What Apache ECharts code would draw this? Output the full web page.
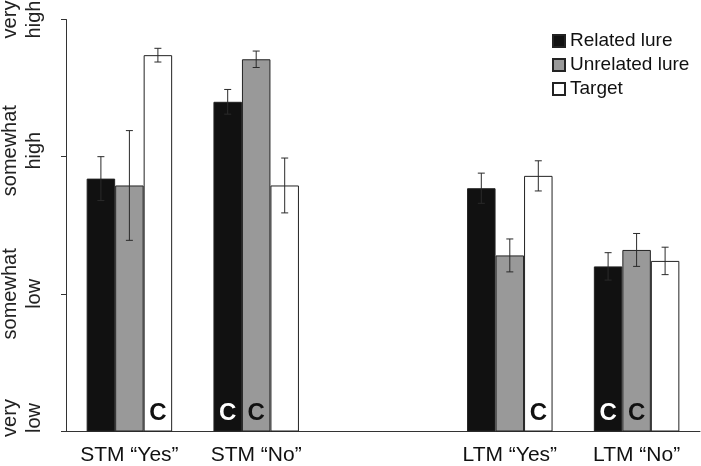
<!DOCTYPE html>
<html>
<head>
<meta charset="utf-8">
<script src="https://cdn.jsdelivr.net/npm/echarts@6/dist/echarts.min.js"></script>
<style>
  html, body { margin: 0; padding: 0; background: #fff; }
  #chart { width: 701px; height: 466px; }
</style>
</head>
<body>
<div id="chart"></div>
<script>
// categories (empty slot in the middle separates STM and LTM)
const categories = ["STM \u201cYes\u201d", "STM \u201cNo\u201d", "", "LTM \u201cYes\u201d", "LTM \u201cNo\u201d"];
const yLabels = [["very", "low"], ["somewhat", "low"], ["somewhat", "high"], ["very", "high"]];
const seriesNames = ["Related lure", "Unrelated lure", "Target"];

// means (1 = very low ... 4 = very high)
const related = [2.84, 3.40, null, 2.77, 2.20];
const unrelated = [2.79, 3.71, null, 2.28, 2.32];
const target = [3.74, 2.79, null, 2.86, 2.24];

// error bar half-lengths
const relatedErr = [0.16, 0.09, null, 0.11, 0.10];
const unrelatedErr = [0.40, 0.06, null, 0.12, 0.12];
const targetErr = [0.05, 0.20, null, 0.11, 0.10];

// which bars carry the "C" mark
const relatedC = [false, true, false, false, true];
const unrelatedC = [false, true, false, false, true];
const targetC = [true, false, false, true, false];

const FONT = "'Liberation Sans', Arial, Helvetica, sans-serif";
const barW = 28.5;

const means = [related, unrelated, target];
const errs = [relatedErr, unrelatedErr, targetErr];
const marks = [relatedC, unrelatedC, targetC];
const fills = ["#111111", "#999999", "#ffffff"];
const cColors = ["#ffffff", "#111111", "#111111"];
// rich style per y label (nudges some labels along the axis like the original)
const yLabelStyle = ["low1", "mid", "high2", "mid"];

var myChart = echarts.init(document.getElementById("chart"));

let series = [];
means.forEach(function (vals, k) {
  series.push({
    name: seriesNames[k],
    type: "bar",
    barWidth: barW,
    barGap: "0%",
    itemStyle: {
      color: fills[k],
      borderColor: "#222",
      borderWidth: 1,
    },
    label: {
      position: "insideBottom",
      distance: 6,
      formatter: "C",
      fontFamily: FONT,
      fontSize: 24,
      fontWeight: "bold",
      color: cColors[k],
    },
    data: vals.map(function (v, i) {
      return { value: v === null ? "-" : v, label: { show: marks[k][i] } };
    }),
    z: 2,
  });
});

// error bars drawn on top of the bars
means.forEach(function (vals, k) {
  const offset = (k - 1) * barW;
  let data = [];
  vals.forEach(function (v, i) {
    if (v !== null) data.push([i, v, errs[k][i]]);
  });
  series.push({
    type: "custom",
    z: 5,
    silent: true,
    renderItem: function (params, api) {
      const x = api.value(0);
      const m = api.value(1);
      const e = api.value(2);
      const hi = api.coord([x, m + e]);
      const lo = api.coord([x, m - e]);
      const cx = hi[0] + offset;
      const cap = 3.5;
      const style = { stroke: "#2a2a2a", lineWidth: 1 };
      return {
        type: "group",
        children: [
          { type: "line", shape: { x1: cx, y1: hi[1], x2: cx, y2: lo[1] }, style: style },
          { type: "line", shape: { x1: cx - cap, y1: hi[1], x2: cx + cap, y2: hi[1] }, style: style },
          { type: "line", shape: { x1: cx - cap, y1: lo[1], x2: cx + cap, y2: lo[1] }, style: style },
        ],
      };
    },
    data: data,
  });
});

const yRich = {
  mid: { fontFamily: FONT, fontSize: 20, lineHeight: 24, color: "#222" },
  low1: { fontFamily: FONT, fontSize: 20, lineHeight: 24, color: "#222", padding: [0, 0, 0, 26] },
  high2: { fontFamily: FONT, fontSize: 20, lineHeight: 24, color: "#222", padding: [0, 0, 0, 12] },
};

var option = {
  backgroundColor: "#fff",
  animation: false,
  textStyle: { fontFamily: FONT },
  grid: {
    left: 66,
    right: 1,
    top: 19.5,
    bottom: 35,
    containLabel: false,
    outerBoundsMode: "none",
  },
  legend: {
    orient: "vertical",
    left: 552,
    top: 31,
    padding: 0,
    icon: "rect",
    itemWidth: 12,
    itemHeight: 12,
    itemGap: 4,
    itemTextGap: 5,
    data: seriesNames,
    textStyle: {
      fontFamily: FONT,
      fontSize: 19,
      lineHeight: 20,
      color: "#111",
    },
  },
  xAxis: {
    type: "category",
    data: categories,
    axisLine: { show: true, lineStyle: { color: "#333", width: 1 } },
    axisTick: { show: false },
    axisLabel: {
      fontFamily: FONT,
      fontSize: 21,
      color: "#111",
      margin: 14,
      interval: 0,
    },
  },
  yAxis: {
    type: "value",
    min: 1,
    max: 4,
    interval: 1,
    axisLine: { show: true, lineStyle: { color: "#333", width: 1 } },
    axisTick: { show: true, length: 5, lineStyle: { color: "#333" } },
    splitLine: { show: false },
    axisLabel: {
      rotate: 90,
      fontFamily: FONT,
      fontSize: 20,
      lineHeight: 24,
      color: "#222",
      margin: 20,
      formatter: function (v) {
        const i = Math.round(v) - 1;
        const s = yLabelStyle[i];
        return "{" + s + "|" + yLabels[i][0] + "}\n{" + s + "|" + yLabels[i][1] + "}";
      },
      rich: yRich,
    },
  },
  series: series,
};

option && myChart.setOption(option);
</script>
</body>
</html>
